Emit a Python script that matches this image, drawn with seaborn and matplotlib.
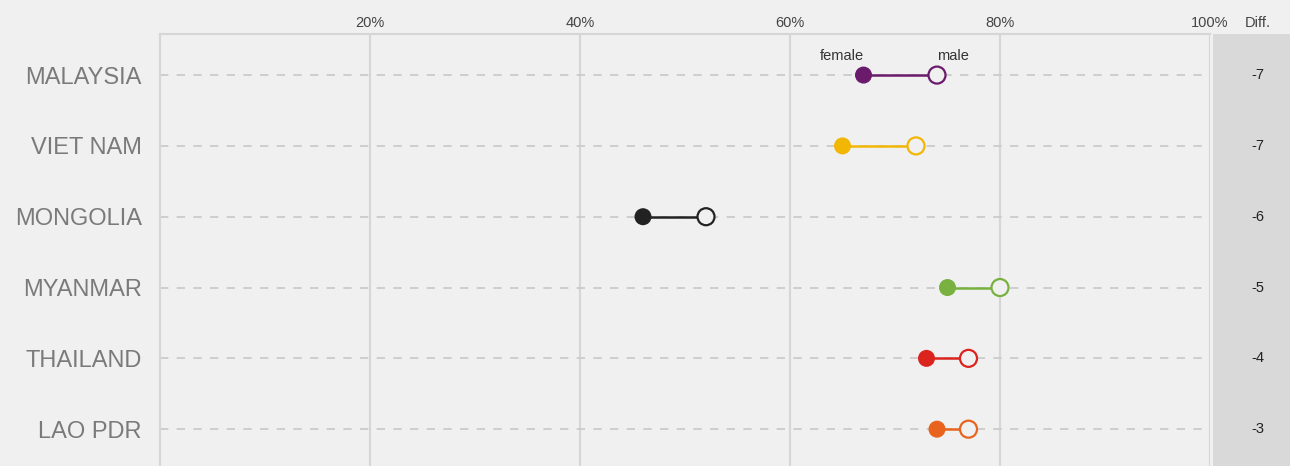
import pandas as pd
import matplotlib.pyplot as plt
import seaborn as sns

# data
countries = ['MALAYSIA', 'VIET NAM', 'MONGOLIA', 'MYANMAR', 'THAILAND', 'LAO PDR']
female = [67, 65, 46, 75, 73, 74]
male = [74, 72, 52, 80, 77, 77]
diff = [-7, -7, -6, -5, -4, -3]
colors = ['#6a1b6c', '#f2b705', '#222222', '#78b13f', '#dc241f', '#e8641e']
ticks = [20, 40, 60, 80, 100]

df = pd.DataFrame({'country': countries, 'female': female, 'male': male, 'diff': diff})
df['row'] = range(len(df))

sns.set_style('white')
plt.rcParams['font.family'] = ['Liberation Sans', 'DejaVu Sans']

bg = '#f0f0f0'
grid = '#d6d6d6'
fig = plt.figure(figsize=(12.9, 4.66), dpi=100, facecolor=bg)
W, H = 1290, 466
ax = fig.add_axes([160 / W, 0, 1050 / W, 432 / H], facecolor=bg)
axd = fig.add_axes([1213 / W, 0, 77 / W, 432 / H], facecolor='#d9d9d9')

ylim = (5.52, -0.58)

# grid and row guides
for t in ticks:
    ax.axvline(t, color=grid, lw=1.5, zorder=0)
ax.hlines(df['row'], 0, 100, colors='#c8c8c8', linestyles=(0, (5, 5)), lw=1.2, zorder=1)

# dumbbell lines
ax.hlines(df['row'], df['female'], df['male'], colors=colors, lw=1.8, zorder=2)

pal = dict(zip(countries, colors))
sns.scatterplot(data=df, x='female', y='row', hue='country', palette=pal, s=150,
                edgecolor='none', legend=False, ax=ax, zorder=3)
sns.scatterplot(data=df, x='male', y='row', hue='country', palette=pal, s=150,
                legend=False, ax=ax, zorder=3)
# make male markers hollow
coll = ax.collections[-1]
coll.set_edgecolors(colors)
coll.set_facecolors(bg)
coll.set_linewidths(1.6)

# series labels sit above the first row
ax.text(df['female'][0], -0.17, 'female', ha='right', va='bottom', fontsize=10.5, color='#333333')
ax.text(df['male'][0], -0.17, 'male', ha='left', va='bottom', fontsize=10.5, color='#333333')

ax.set_xlim(0, 100)
ax.set_ylim(*ylim)
ax.set_xticks(ticks)
ax.set_xticklabels([f'{t}%' for t in ticks])
ax.xaxis.tick_top()
ax.tick_params(axis='x', length=0, pad=3, labelsize=10.5, labelcolor='#444444')
ax.set_yticks(df['row'])
ax.set_yticklabels(countries)
ax.tick_params(axis='y', length=0, pad=13, labelsize=17, labelcolor='#7a7a7a')
ax.set_xlabel('')
ax.set_ylabel('')
for side in ['right', 'bottom']:
    ax.spines[side].set_visible(False)
for side in ['left', 'top']:
    ax.spines[side].set_color(grid)
    ax.spines[side].set_linewidth(1.5)

# diff column
axd.set_xlim(0, 1)
axd.set_ylim(*ylim)
for r, d in zip(df['row'], df['diff']):
    axd.text(0.58, r, f'{d}', ha='center', va='center', fontsize=10.5, color='#222222')
axd.set_xticks([])
axd.set_yticks([])
for s in axd.spines.values():
    s.set_visible(False)
fig.text(1258 / W, 1 - 23 / H, 'Diff.', ha='center', va='center', fontsize=10.5, color='#444444')

fig.savefig('out.png', dpi=100, facecolor=bg)
